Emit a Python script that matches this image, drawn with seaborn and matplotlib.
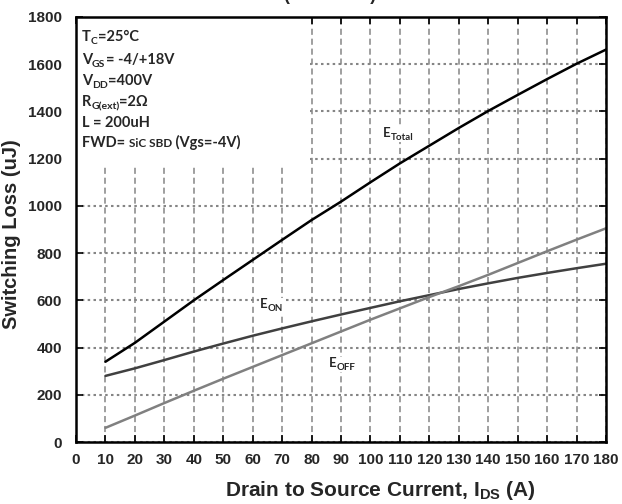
import numpy as np
import pandas as pd
import matplotlib
matplotlib.use("Agg")
import matplotlib.pyplot as plt
import seaborn as sns
from matplotlib.patches import Rectangle

# ---- data ----
current = [10, 20, 30, 40, 50, 60, 70, 80, 90, 100, 110, 120, 130, 140, 150, 160, 170, 180]
e_total = [340, 420, 510, 600, 686, 771, 856, 940, 1018, 1100, 1180, 1255, 1330, 1402, 1470, 1537, 1602, 1662]
e_on = [280, 312, 347, 383, 417, 450, 481, 511, 540, 568, 596, 622, 648, 672, 695, 716, 736, 755]
e_off = [60, 112, 165, 217, 268, 318, 368, 418, 468, 518, 566, 614, 660, 708, 758, 808, 857, 905]
series_names = ["E_Total", "E_ON", "E_OFF"]
x_ticks = list(range(0, 181, 10))
y_ticks = list(range(0, 1801, 200))
conditions = [
    [("T", 10.5, 0), ("C", 7.5, 3), ("=25°C", 10.5, 0)],
    [("V", 10.5, 0), ("GS", 7.5, 3), ("= -4/+18V", 10.5, 0)],
    [("V", 10.5, 0), ("DD", 7.5, 3), ("=400V", 10.5, 0)],
    [("R", 10.5, 0), ("G(ext)", 7.5, 3), ("=2Ω", 10.5, 0)],
    [("L = 200uH", 10.5, 0)],
    [("FWD= ", 10.5, 0), ("SiC SBD", 8.5, 0), (" (Vgs=-4V)", 10.5, 0)],
]

W, H = 622, 504
sns.set_theme(style="white")
plt.rcParams["font.family"] = ["Liberation Sans", "DejaVu Sans"]
plt.rcParams["mathtext.fontset"] = "custom"
plt.rcParams["mathtext.rm"] = "Liberation Sans:bold"
plt.rcParams["mathtext.bf"] = "Liberation Sans:bold"
plt.rcParams["mathtext.it"] = "Liberation Sans:bold"

fig = plt.figure(figsize=(W / 100, H / 100), dpi=100)
fig.patch.set_facecolor("white")
ax = fig.add_axes([76 / W, 1 - 442 / H, 530 / W, 425 / H])
ax.set_facecolor("white")

df = pd.DataFrame({
    "I": current * 3,
    "E": e_total + e_on + e_off,
    "s": [series_names[0]] * len(current) + [series_names[1]] * len(current) + [series_names[2]] * len(current),
})
palette = {"E_Total": "#000000", "E_ON": "#404040", "E_OFF": "#808080"}
sns.lineplot(data=df, x="I", y="E", hue="s", palette=palette, legend=False,
             linewidth=1.8, ax=ax, zorder=3)

ax.set_xlim(0, 180)
ax.set_ylim(0, 1800)
ax.set_xticks(x_ticks)
ax.set_yticks(y_ticks)
ax.set_xticklabels([str(t) for t in x_ticks], fontsize=11, fontweight="bold")
ax.set_yticklabels([str(t) for t in y_ticks], fontsize=11, fontweight="bold")
ax.tick_params(direction="in", length=5, width=1.2, color="black",
               top=True, right=True, left=True, bottom=True)
ax.tick_params(axis="y", pad=10)
ax.tick_params(axis="x", pad=8)

# grid (dashed vertical, dotted horizontal)
ax.vlines(x_ticks, 0, 1800, colors="#858585", linestyles=(0, (4, 2.5)), linewidth=1.1, zorder=0.5)
ax.hlines(y_ticks, 0, 180, colors="#858585", linestyles=(0, (1.2, 1.6)), linewidth=1.5, zorder=0.5)

# white condition box
ax.add_patch(Rectangle((0, 1172), 79.5, 628, facecolor="white", edgecolor="none", zorder=1))

for sp in ax.spines.values():
    sp.set_color("black")
    sp.set_linewidth(1.8)
    sp.set_zorder(4)

ax.set_xlabel("Drain to Source Current, I$_{\\mathregular{DS}}$ (A)", fontsize=15, fontweight="bold")
ax.xaxis.set_label_coords(0.575, -0.088)
ax.set_ylabel("Switching Loss (uJ)", fontsize=14.5, fontweight="bold")
ax.yaxis.set_label_coords(-0.104, 0.49)

# partially visible title at the top
fig.text(330 / W, 1.0, "(Tc = 25°C)", fontsize=13, fontweight="bold", ha="center", va="baseline")

renderer = fig.canvas.get_renderer()
LATO = ["Lato", "DejaVu Sans"]


def rich(x, y, segs):
    """Draw segments left to right; x,y in pixels from top-left (baseline)."""
    texts = []
    for s, size, dy in segs:
        t = fig.text(x / W, 1 - (y + dy) / H, s, fontsize=size, fontweight="bold",
                     family=LATO, va="baseline", ha="left", zorder=5)
        bb = t.get_window_extent(renderer)
        x += bb.width
        texts.append(t)
    return texts


# condition lines
baselines = [41, 64, 85, 106, 127, 147]
for segs, yb in zip(conditions, baselines):
    rich(82, yb, segs)

# curve labels with white backgrounds
for (x, y, m, s) in [(383, 137, "E", "Total"), (260, 308, "E", "ON"), (329, 367, "E", "OFF")]:
    ts = rich(x, y, [(m, 9.5, 0), (s, 7, 3)])
    bbs = [t.get_window_extent(renderer) for t in ts]
    x0 = min(b.x0 for b in bbs) - 1
    x1 = max(b.x1 for b in bbs) + 1
    y0 = min(b.y0 for b in bbs)
    y1 = max(b.y1 for b in bbs)
    fig.patches.append(Rectangle((x0 / W, y0 / H), (x1 - x0) / W, (y1 - y0) / H,
                                 transform=fig.transFigure, facecolor="white",
                                 edgecolor="none", zorder=4.5))

fig.savefig("out.png", dpi=100, facecolor="white")
